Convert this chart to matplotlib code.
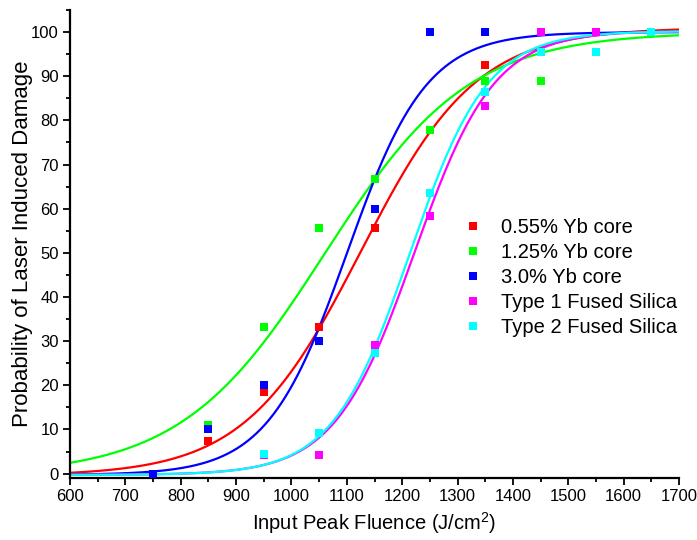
import numpy as np
import matplotlib
matplotlib.use("Agg")
import matplotlib.pyplot as plt
from matplotlib.ticker import MultipleLocator

plt.rcParams['font.family'] = ['Liberation Sans', 'DejaVu Sans']
plt.rcParams['mathtext.fontset'] = 'custom'
plt.rcParams['mathtext.rm'] = 'Liberation Sans'
plt.rcParams['mathtext.it'] = 'Liberation Sans:italic'

# ---- data ----
fluence = [750, 850, 950, 1050, 1150, 1250, 1350, 1450, 1550, 1650]

labels = ["0.55% Yb core", "1.25% Yb core", "3.0% Yb core",
          "Type 1 Fused Silica", "Type 2 Fused Silica"]
colors = ["#FF0000", "#00FF00", "#0000FF", "#FF00FF", "#00FFFF"]

nan = float('nan')
yb055 = [0.0, 7.4, 18.5, 33.3, 55.6, 77.8, 92.6, 100.0, 100.0, 100.0]
yb125 = [0.0, 11.1, 33.3, 55.6, 66.7, 77.8, 88.9, 88.9, 100.0, 100.0]
yb300 = [0.0, 10.0, 20.0, 30.0, 60.0, 100.0, 100.0, 100.0, 100.0, 100.0]
fs1   = [nan, nan, 4.2, 4.2, 29.2, 58.3, 83.3, 100.0, 100.0, 100.0]
fs2   = [nan, nan, 4.5, 9.1, 27.3, 63.6, 86.4, 95.5, 95.5, 100.0]
series = [yb055, yb125, yb300, fs1, fs2]

# Boltzmann sigmoid fit parameters (A1, A2, x0, dx) per series
fit_A1 = [-0.5, -0.4, -0.3, -0.3, -0.3]
fit_A2 = [101.0, 100.0, 100.0, 100.3, 100.2]
fit_x0 = [1125, 1060, 1100, 1222, 1214]
fit_dx = [105, 130, 72, 72, 70]

xticks = list(range(600, 1701, 100))
yticks = list(range(0, 101, 10))

# ---- figure ----
fig = plt.figure(figsize=(6.97, 5.40), dpi=100)
ax = fig.add_axes([70/697, 62/540, 609/697, 468/540])

xs = np.linspace(600, 1700, 600)
handles = []
for ys, c, lab, a1, a2, x0, dx in zip(series, colors, labels, fit_A1, fit_A2, fit_x0, fit_dx):
    yfit = a2 + (a1 - a2) / (1 + np.exp((xs - x0) / dx))
    ax.plot(xs, yfit, color=c, lw=1.6, zorder=2)
for ys, c, lab in zip(series, colors, labels):
    h, = ax.plot(fluence, ys, ls='none', marker='s', ms=6.3, mfc=c, mec=c,
                 mew=0, label=lab, zorder=3)
    handles.append(h)

ax.set_xlim(600, 1700)
ax.set_ylim(-1, 105)
ax.set_xticks(xticks)
ax.set_yticks(yticks)
ax.xaxis.set_minor_locator(MultipleLocator(50))
ax.yaxis.set_minor_locator(MultipleLocator(5))
ax.tick_params(which='major', direction='out', length=5, width=1.3, labelsize=12, pad=3)
ax.tick_params(which='minor', direction='out', length=3, width=1.3)
for s in ['top', 'right']:
    ax.spines[s].set_visible(False)
for s in ['left', 'bottom']:
    ax.spines[s].set_linewidth(1.6)

ax.set_xlabel(r'Input Peak Fluence (J/cm$^{\mathregular{2}}$)', fontsize=14.5)
ax.set_ylabel('Probability of Laser Induced Damage', fontsize=16, labelpad=-1)

leg = ax.legend(handles=handles, loc='upper left', bbox_to_anchor=(0.648, 0.555),
                frameon=False, fontsize=14.5, handlelength=0.8, handletextpad=1.0,
                labelspacing=0.3, borderaxespad=0, borderpad=0)

fig.savefig('out.png', dpi=100)
